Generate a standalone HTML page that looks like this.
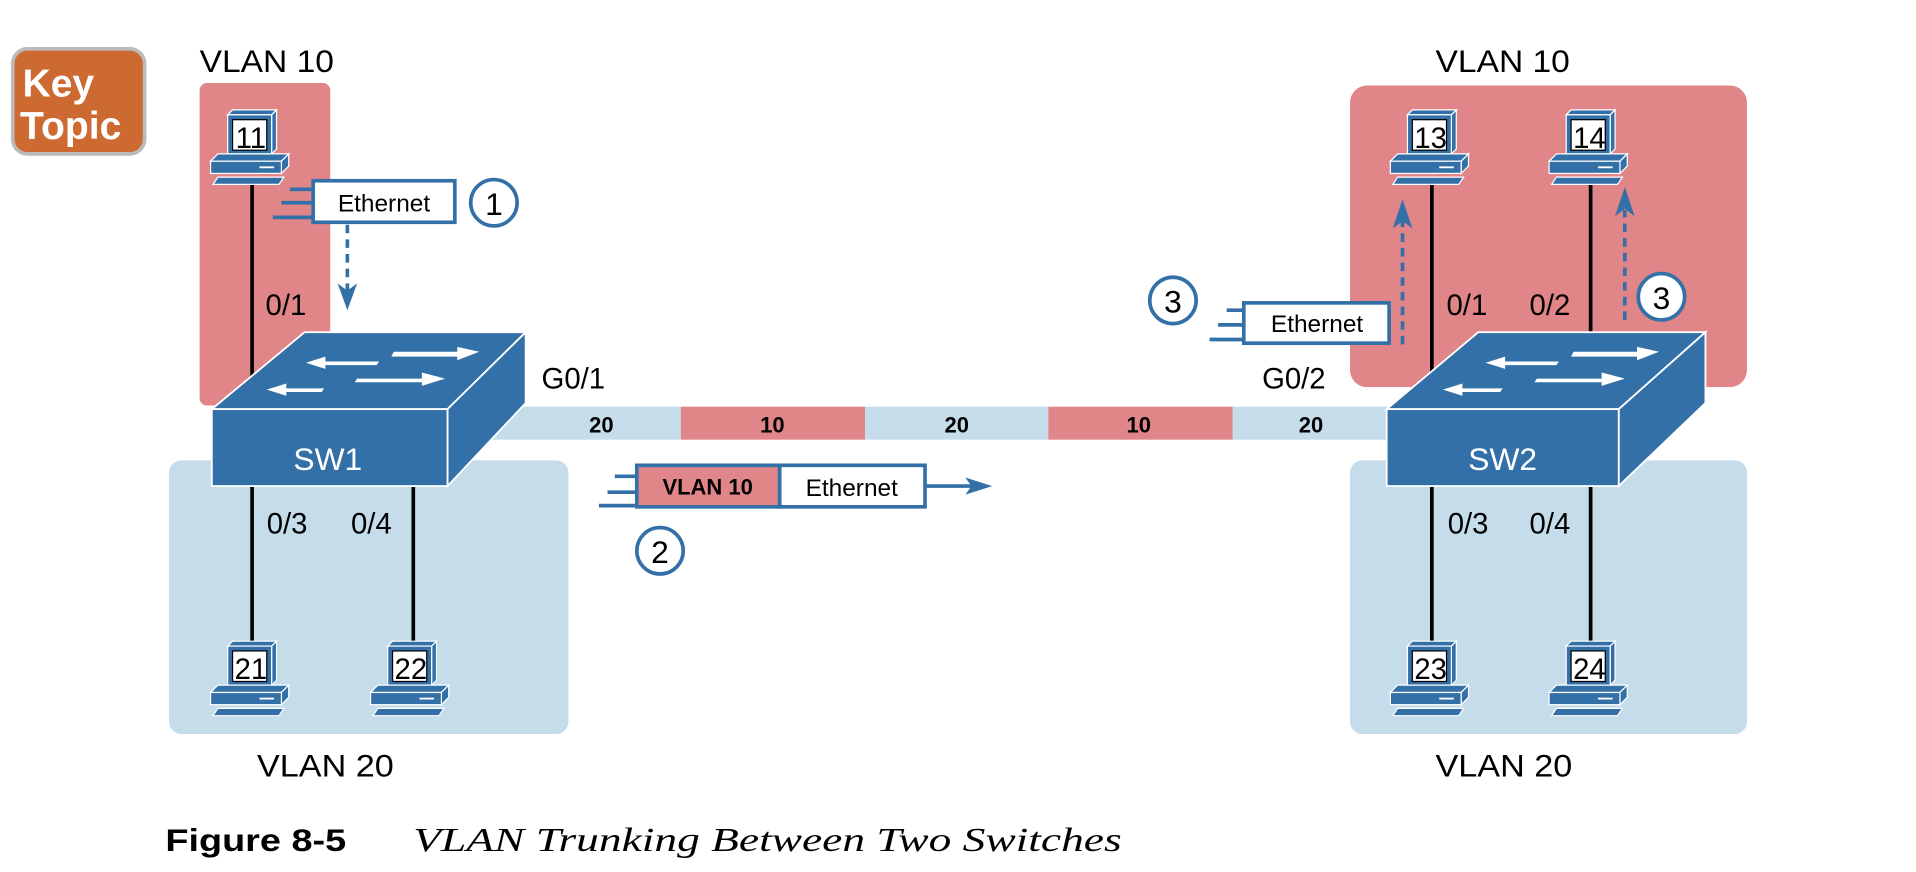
<!DOCTYPE html>
<html><head><meta charset="utf-8"><style>
html,body{margin:0;padding:0;background:#fff;}
svg{display:block;}
text{font-family:"Liberation Sans",sans-serif;}
</style></head><body>
<svg width="1916" height="872" viewBox="0 0 1568 714" xmlns="http://www.w3.org/2000/svg">
<defs>
<g id="pc">
  <polygon points="14,4 18,0 54,0 50,4" fill="#3370a8" stroke="#fff" stroke-width="1"/>
  <polygon points="50,4 54,0 54,32 50,36" fill="#3370a8" stroke="#fff" stroke-width="1"/>
  <rect x="14" y="4" width="36" height="32" fill="#3370a8" stroke="#fff" stroke-width="1"/>
  <rect x="18" y="8" width="28" height="25" fill="#fff" stroke="#000" stroke-width="1"/>
  <polygon points="0,42 6,36 64,36 58,42" fill="#3370a8" stroke="#fff" stroke-width="1"/>
  <polygon points="58,42 64,36 64,46 58,52" fill="#3370a8" stroke="#fff" stroke-width="1"/>
  <rect x="0" y="42" width="58" height="10" fill="#3370a8" stroke="#fff" stroke-width="1"/>
  <line x1="40" y1="47" x2="52" y2="47" stroke="#fff" stroke-width="1.5"/>
  <polygon points="2,61 6,55 60,55 56,61" fill="#3370a8" stroke="#fff" stroke-width="1"/>
</g>
</defs>

<!-- Key Topic -->
<rect x="10" y="40" width="108" height="86" rx="12" fill="#cc6a32" stroke="#bbb" stroke-width="3"/>
<text x="18" y="79" font-size="32" font-weight="bold" fill="#fff">Key</text>
<text x="16" y="114" font-size="32" font-weight="bold" fill="#fff">Topic</text>

<!-- zones -->
<path d="M163,74 a6,6 0 0 1 6,-6 h95 a6,6 0 0 1 6,6 V332 H169 a6,6 0 0 1 -6,-6 Z" fill="#e08588"/>
<rect x="138" y="377" width="327" height="224" rx="10" fill="#c5dcea"/>
<rect x="1105" y="70" width="325" height="247" rx="14" fill="#e08588"/>
<rect x="1105" y="377" width="325" height="224" rx="10" fill="#c5dcea"/>

<g font-size="26">
<text x="163" y="59" textLength="110" lengthAdjust="spacingAndGlyphs">VLAN 10</text>
<text x="1175" y="59" textLength="110" lengthAdjust="spacingAndGlyphs">VLAN 10</text>
<text x="210" y="636" textLength="112" lengthAdjust="spacingAndGlyphs">VLAN 20</text>
<text x="1175" y="636" textLength="112" lengthAdjust="spacingAndGlyphs">VLAN 20</text>
</g>

<!-- trunk -->
<rect x="360" y="333" width="197" height="27" fill="#c5dcea"/>
<rect x="557" y="333" width="151" height="27" fill="#e08588"/>
<rect x="708" y="333" width="150" height="27" fill="#c5dcea"/>
<rect x="858" y="333" width="151" height="27" fill="#e08588"/>
<rect x="1009" y="333" width="140" height="27" fill="#c5dcea"/>
<g font-size="18" font-weight="bold" text-anchor="middle">
<text x="492" y="354">20</text><text x="632" y="354">10</text><text x="783" y="354">20</text><text x="932" y="354">10</text><text x="1073" y="354">20</text>
</g>
<text x="443" y="318" font-size="24">G0/1</text>
<text x="1033" y="318" font-size="24">G0/2</text>

<!-- lines -->
<g stroke="#000" stroke-width="3">
<line x1="206" y1="150" x2="206" y2="320"/>
<line x1="206" y1="395" x2="206" y2="558"/>
<line x1="338" y1="395" x2="338" y2="558"/>
<line x1="1172" y1="150" x2="1172" y2="320"/>
<line x1="1302" y1="150" x2="1302" y2="320"/>
<line x1="1172" y1="395" x2="1172" y2="558"/>
<line x1="1302" y1="395" x2="1302" y2="558"/>
</g>
<g font-size="24">
<text x="217" y="258">0/1</text>
<text x="218" y="437">0/3</text><text x="287" y="437">0/4</text>
<text x="1184" y="258">0/1</text><text x="1252" y="258">0/2</text>
<text x="1185" y="437">0/3</text><text x="1252" y="437">0/4</text>
</g>

<!-- PCs -->
<g font-size="24" text-anchor="middle">
<use href="#pc" x="172" y="90"/><text x="205" y="121">11</text>
<use href="#pc" x="172" y="525"/><text x="205" y="556">21</text>
<use href="#pc" x="303" y="525"/><text x="336" y="556">22</text>
<use href="#pc" x="1138" y="90"/><text x="1171" y="121">13</text>
<use href="#pc" x="1268" y="90"/><text x="1301" y="121">14</text>
<use href="#pc" x="1138" y="525"/><text x="1171" y="556">23</text>
<use href="#pc" x="1268" y="525"/><text x="1301" y="556">24</text>
</g>

<!-- switches -->
<g stroke="#fff" stroke-width="1.5" fill="#3370a8">
<polygon points="173,335 249,272 430,272 366,335"/>
<polygon points="366,335 430,272 430,330 366,398"/>
<rect x="173" y="335" width="193" height="63"/>
<polygon points="1135,335 1210,272 1396,272 1325,335"/>
<polygon points="1325,335 1396,272 1396,330 1325,398"/>
<rect x="1135" y="335" width="190" height="63"/>
</g>
<text x="268" y="385" font-size="26" fill="#fff" text-anchor="middle">SW1</text>
<text x="1230" y="385" font-size="26" fill="#fff" text-anchor="middle">SW2</text>
<g fill="#fff">
<polygon points="322,288 374,288 374,284 392,288 374,295 374,292 320,292"/>
<polygon points="292,310 345,310 345,305 364,310 345,316 345,313 290,313"/>
<polygon points="310,296 266,296 266,292 250,297 266,302 266,299 308,299"/>
<polygon points="265,318 234,318 234,314 218,319 234,324 234,321 263,321"/>
<polygon points="1288,288 1340,288 1340,284 1358,288 1340,295 1340,292 1286,292"/>
<polygon points="1258,310 1311,310 1311,305 1330,310 1311,316 1311,313 1256,313"/>
<polygon points="1276,296 1232,296 1232,292 1216,297 1232,302 1232,299 1274,299"/>
<polygon points="1230,318 1197,318 1197,314 1181,319 1197,324 1197,321 1228,321"/>
</g>

<!-- frame 1 -->
<g stroke="#3370a8" stroke-width="3">
<line x1="237" y1="155" x2="256" y2="155"/><line x1="230" y1="166" x2="256" y2="166"/><line x1="223" y1="178" x2="256" y2="178"/>
<line x1="284" y1="184" x2="284" y2="240" stroke-dasharray="7,5"/>
</g>
<polygon points="276,232 284,254 292,232 284,238" fill="#3370a8"/>
<rect x="256" y="148" width="116" height="34" fill="#fff" stroke="#3370a8" stroke-width="3"/>
<text x="314" y="173" font-size="20" text-anchor="middle">Ethernet</text>
<circle cx="404" cy="166" r="19" fill="#fff" stroke="#3370a8" stroke-width="3"/>
<text x="404" y="176" font-size="26" text-anchor="middle">1</text>

<!-- frame 2 -->
<g stroke="#3370a8" stroke-width="3">
<line x1="503" y1="390" x2="521" y2="390"/><line x1="497" y1="403" x2="521" y2="403"/><line x1="490" y1="414" x2="521" y2="414"/>
<line x1="757" y1="398" x2="795" y2="398"/>
</g>
<polygon points="790,391 812,398 790,405 795,398" fill="#3370a8"/>
<rect x="521" y="381" width="117" height="34" fill="#e08588" stroke="#3370a8" stroke-width="3"/>
<rect x="638" y="381" width="119" height="34" fill="#fff" stroke="#3370a8" stroke-width="3"/>
<text x="579" y="405" font-size="18" font-weight="bold" text-anchor="middle">VLAN 10</text>
<text x="697" y="406" font-size="20" text-anchor="middle">Ethernet</text>
<circle cx="540" cy="451" r="19" fill="#fff" stroke="#3370a8" stroke-width="3"/>
<text x="540" y="461" font-size="26" text-anchor="middle">2</text>

<!-- frame 3 -->
<g stroke="#3370a8" stroke-width="3">
<line x1="1004" y1="254" x2="1018" y2="254"/><line x1="997" y1="266" x2="1018" y2="266"/><line x1="990" y1="278" x2="1018" y2="278"/>
<line x1="1148" y1="282" x2="1148" y2="180" stroke-dasharray="7,5"/>
<line x1="1330" y1="262" x2="1330" y2="172" stroke-dasharray="7,5"/>
</g>
<polygon points="1140,187 1148,163 1156,187 1148,181" fill="#3370a8"/>
<polygon points="1322,177 1330,153 1338,177 1330,171" fill="#3370a8"/>
<rect x="1018" y="248" width="119" height="33" fill="#fff" stroke="#3370a8" stroke-width="3"/>
<text x="1078" y="272" font-size="20" text-anchor="middle">Ethernet</text>
<circle cx="960" cy="246" r="19" fill="#fff" stroke="#3370a8" stroke-width="3"/>
<text x="960" y="256" font-size="26" text-anchor="middle">3</text>
<circle cx="1360" cy="243" r="19" fill="#fff" stroke="#3370a8" stroke-width="3"/>
<text x="1360" y="253" font-size="26" text-anchor="middle">3</text>

<!-- caption -->
<text x="135" y="697" font-size="26" font-weight="bold" textLength="148" lengthAdjust="spacingAndGlyphs">Figure 8-5</text>
<text x="338" y="697" font-size="28" style="font-family:'Liberation Serif',serif;font-style:italic" textLength="580" lengthAdjust="spacingAndGlyphs">VLAN Trunking Between Two Switches</text>
</svg>
</body></html>
